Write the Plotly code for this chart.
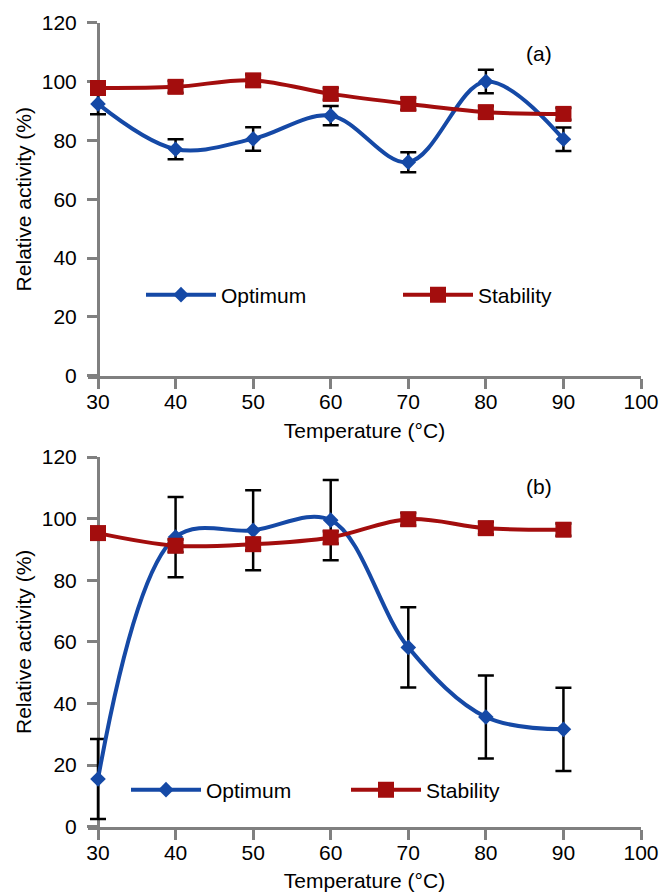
import plotly.graph_objects as go

temps = [30, 40, 50, 60, 70, 80, 90]

# Panel (a)
opt_a = [92.4, 77.0, 80.5, 88.4, 72.6, 100.0, 80.4]
opt_a_err = [3.5, 3.4, 4.0, 3.3, 3.4, 4.0, 4.0]
stab_a = [97.8, 98.2, 100.4, 95.8, 92.4, 89.6, 89.0]
stab_a_err = [2.0, 2.0, 2.0, 2.0, 2.0, 2.0, 2.0]

# Panel (b)
opt_b = [15.5, 94.0, 96.2, 99.5, 58.2, 35.6, 31.6]
opt_b_err = [13.0, 13.0, 13.0, 13.0, 13.0, 13.5, 13.5]
stab_b = [95.3, 91.2, 91.7, 93.9, 99.8, 96.9, 96.4]
stab_b_err = [2.0, 2.0, 2.0, 2.0, 2.0, 2.0, 2.0]

xticks = [30, 40, 50, 60, 70, 80, 90, 100]
yticks = [0, 20, 40, 60, 80, 100, 120]

BLUE = "#1549A6"
RED = "#A30D0D"
FONT = "Liberation Sans"
FS = 21
W, H = 660, 892
ML, MR = 88, 19          # plot area starts 10 px left of the y axis so caps at x=30 are not clipped
PW = W - ML - MR
AXIS_PX = 98             # pixel position of x = 30 (the y axis)
XMAX_PX = 641            # pixel position of x = 100
px_per_unit = (XMAX_PX - AXIS_PX) / (100 - 30)
x_lo = 30 - (AXIS_PX - ML) / px_per_unit


def px_x(p):
    return (p - ML) / PW


def px_y(p):
    return 1 - p / H


def err(vals):
    return dict(type="data", array=vals, visible=True, color="black",
                thickness=2.5, width=8)


fig = go.Figure()

for xa, ya, leg, opt, oerr, stab, serr in [
    ("x", "y", "legend", opt_a, opt_a_err, stab_a, stab_a_err),
    ("x2", "y2", "legend2", opt_b, opt_b_err, stab_b, stab_b_err),
]:
    fig.add_trace(go.Scatter(
        x=temps, y=opt, xaxis=xa, yaxis=ya, legend=leg, name="Optimum",
        mode="lines+markers", cliponaxis=False,
        line=dict(color=BLUE, width=4, shape="spline", smoothing=1),
        marker=dict(symbol="diamond", size=12, color=BLUE),
        error_y=err(oerr)))
    fig.add_trace(go.Scatter(
        x=temps, y=stab, xaxis=xa, yaxis=ya, legend=leg, name="Stability",
        mode="lines+markers", cliponaxis=False,
        line=dict(color=RED, width=4, shape="spline", smoothing=1),
        marker=dict(symbol="square", size=16, color=RED),
        error_y=err(serr)))

axis_common = dict(showline=True, linecolor="#808080", linewidth=3,
                   ticks="outside", ticklen=10, tickwidth=3, tickcolor="#808080",
                   showgrid=False, zeroline=False, layer="below traces",
                   tickfont=dict(family=FONT, size=FS, color="black"))

xcommon = dict(axis_common, range=[x_lo, 100], tickvals=xticks, ticklabelstandoff=-5,
               title=dict(text="Temperature (°C)", font=dict(family=FONT, size=FS, color="black"),
                          standoff=12))
ycommon = dict(axis_common, range=[0, 120], tickvals=yticks, ticklabelstandoff=6,
               anchor="free", position=px_x(AXIS_PX),
               title=dict(text="Relative activity (%)", font=dict(family=FONT, size=FS, color="black"),
                          standoff=3))

fig.update_layout(
    width=W, height=H,
    margin=dict(l=ML, r=MR, t=0, b=0, autoexpand=False),
    paper_bgcolor="white", plot_bgcolor="white",
    font=dict(family=FONT, size=FS, color="black"),
    xaxis=dict(xcommon, domain=[0, 1], anchor="y"),
    yaxis=dict(ycommon, domain=[px_y(375.7), px_y(22.7)]),
    xaxis2=dict(xcommon, domain=[0, 1], anchor="y2"),
    yaxis2=dict(ycommon, domain=[px_y(826.7), px_y(457)]),
    legend=dict(orientation="h", x=px_x(141), y=px_y(295), xanchor="left", yanchor="middle",
                bgcolor="rgba(0,0,0,0)", itemwidth=70, entrywidth=172, entrywidthmode="pixels",
                font=dict(family=FONT, size=FS, color="black")),
    legend2=dict(orientation="h", x=px_x(126), y=px_y(790), xanchor="left", yanchor="middle",
                 bgcolor="rgba(0,0,0,0)", itemwidth=70, entrywidth=135, entrywidthmode="pixels",
                 font=dict(family=FONT, size=FS, color="black")),
    annotations=[
        dict(text="(a)", x=px_x(539), y=px_y(53), xref="paper", yref="paper",
             xanchor="center", yanchor="middle",
             showarrow=False, font=dict(family=FONT, size=FS, color="black")),
        dict(text="(b)", x=px_x(539), y=px_y(487), xref="paper", yref="paper",
             xanchor="center", yanchor="middle",
             showarrow=False, font=dict(family=FONT, size=FS, color="black")),
    ],
)

fig.write_html("out.html")
